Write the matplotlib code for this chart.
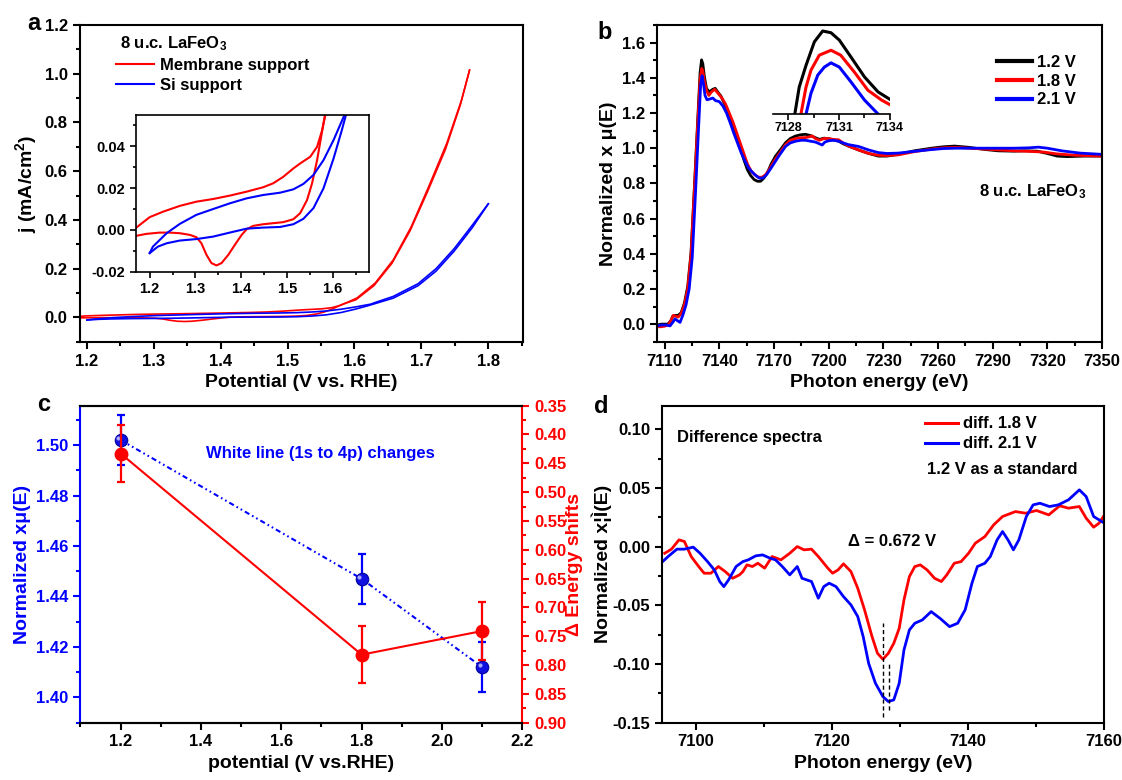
import matplotlib
matplotlib.use('Agg')
import matplotlib.pyplot as plt
from matplotlib.ticker import MultipleLocator, FormatStrFormatter
from matplotlib.lines import Line2D
from matplotlib.transforms import ScaledTranslation

plt.rcParams['font.family'] = ['Liberation Sans', 'DejaVu Sans']
plt.rcParams['font.weight'] = 'bold'
plt.rcParams['axes.labelweight'] = 'bold'
plt.rcParams['axes.unicode_minus'] = False
plt.rcParams['mathtext.fontset'] = 'custom'
plt.rcParams['mathtext.rm'] = 'Liberation Sans:bold'
plt.rcParams['mathtext.bf'] = 'Liberation Sans:bold'
plt.rcParams['mathtext.it'] = 'Liberation Sans:bold'
plt.rcParams['mathtext.default'] = 'bf'

## ---- panel a : CV curves (potential V vs RHE, j mA/cm2) ----
mem_fwd_v = [1.169, 1.2, 1.229, 1.266, 1.302, 1.339, 1.375, 1.412, 1.448, 1.47, 1.492, 1.514,
             1.529, 1.551, 1.566, 1.577, 1.584, 1.604, 1.631, 1.658, 1.685, 1.711, 1.738, 1.76, 1.772]
mem_fwd_j = [0.0008, 0.0061, 0.0087, 0.0115, 0.0135, 0.0148, 0.0164, 0.0183, 0.0204, 0.0223, 0.0254, 0.0294,
             0.0318, 0.035, 0.0398, 0.0477, 0.0549, 0.08, 0.141, 0.236, 0.373, 0.537, 0.715, 0.892, 1.015]
mem_rev_v = [1.772, 1.758, 1.736, 1.709, 1.683, 1.656, 1.629, 1.602, 1.583, 1.566, 1.555, 1.544, 1.529,
             1.514, 1.492, 1.47, 1.448, 1.426, 1.412, 1.401, 1.386, 1.372, 1.357, 1.346, 1.335, 1.324,
             1.313, 1.302, 1.288, 1.266, 1.244, 1.222, 1.193, 1.169]
mem_rev_j = [1.015, 0.87, 0.69, 0.515, 0.355, 0.222, 0.13, 0.072, 0.0549, 0.0334, 0.0223, 0.0143, 0.008,
             0.0051, 0.0037, 0.0032, 0.0027, 0.0019, 0.0003, -0.0024, -0.0072, -0.0119, -0.0159, -0.017, -0.0159, -0.0119,
             -0.0064, -0.0035, -0.0024, -0.0016, -0.0013, -0.0013, -0.0019, -0.0029]
si_fwd_v = [1.2, 1.207, 1.222, 1.237, 1.266, 1.302, 1.339, 1.375, 1.412, 1.448, 1.485, 1.514, 1.536,
            1.558, 1.58, 1.602, 1.624, 1.631, 1.658, 1.695, 1.722, 1.749, 1.776, 1.8]
si_fwd_j = [-0.0111, -0.008, -0.0048, -0.0016, 0.0029, 0.0072, 0.01, 0.0127, 0.0151, 0.0167, 0.0178, 0.0194, 0.022,
            0.0263, 0.0334, 0.043, 0.0541, 0.061, 0.086, 0.138, 0.2, 0.282, 0.378, 0.466]
si_rev_v = [1.8, 1.776, 1.749, 1.722, 1.695, 1.658, 1.629, 1.62, 1.602, 1.58, 1.558, 1.536, 1.514, 1.485,
            1.448, 1.412, 1.375, 1.339, 1.302, 1.266, 1.237, 1.218, 1.2]
si_rev_j = [0.466, 0.368, 0.272, 0.19, 0.13, 0.079, 0.055, 0.0477, 0.0342, 0.0199, 0.0104, 0.0053, 0.0027, 0.0014,
            0.0011, 0.0006, -0.0013, -0.0032, -0.0044, -0.0051, -0.0064, -0.008, -0.0111]

## ---- panel b : XANES spectra ----
e_k = [7106, 7108.2, 7111.8, 7113.5, 7114.5, 7116, 7117.5, 7119.1, 7120.9, 7122.7, 7124.5, 7126.4, 7128.2,
       7129.5, 7130.3, 7131.0, 7131.8, 7133, 7134.5, 7136.5, 7137.8, 7139.5, 7140.9, 7142.5, 7144.5, 7146.4,
       7148.2, 7150, 7151.8, 7153.5, 7155.4, 7157.2, 7159.1, 7161, 7162.7, 7164.5, 7166.4, 7168.5, 7170.9,
       7173.5, 7176.4, 7179, 7181.8, 7184.5, 7187.3, 7190, 7192.7, 7195, 7197.5, 7200, 7202.5, 7205.5, 7208,
       7210.9, 7216.4, 7222, 7227.3, 7232, 7238.2, 7247, 7256.4, 7263, 7269.1, 7277, 7285.5, 7293, 7301.8,
       7308, 7314.5, 7320, 7325.5, 7331, 7340, 7350]
mu_k = [-0.005, 0.0, 0.0, 0.02, 0.045, 0.05, 0.05, 0.065, 0.12, 0.214, 0.404, 0.784, 1.164,
        1.43, 1.502, 1.48, 1.41, 1.34, 1.32, 1.335, 1.34, 1.315, 1.297, 1.26, 1.221, 1.16,
        1.107, 1.05, 0.993, 0.935, 0.879, 0.845, 0.822, 0.812, 0.812, 0.83, 0.86, 0.91, 0.955,
        0.99, 1.031, 1.055, 1.069, 1.076, 1.079, 1.072, 1.06, 1.05, 1.057, 1.054, 1.048, 1.04, 1.025,
        1.012, 0.99, 0.97, 0.955, 0.955, 0.965, 0.985, 1.0, 1.008, 1.012, 1.005, 0.993, 0.985, 0.983,
        0.985, 0.983, 0.97, 0.955, 0.952, 0.955, 0.955]
e_r = [7106, 7108, 7110, 7112, 7113.5, 7114.8, 7116, 7117.5, 7119.1, 7120.9, 7122.7, 7124.5, 7126.4, 7128.2,
       7129.5, 7130.4, 7131.0, 7131.8, 7133, 7134.3, 7135.8, 7137.5, 7139.5, 7141.5, 7143.5, 7145.5, 7147.5,
       7149.5, 7151.5, 7153.5, 7155.5, 7157.5, 7159.5, 7161.5, 7163.5, 7165.5, 7167.5, 7170, 7173, 7176.4,
       7179, 7182, 7185, 7187.3, 7189.5, 7191, 7192.7, 7195, 7197.5, 7200, 7202.5, 7205.5, 7208, 7211,
       7216.4, 7222, 7227.3, 7232, 7238.2, 7247, 7256.4, 7263, 7270, 7277, 7285.5, 7293, 7301.8, 7310,
       7318, 7325, 7335, 7350]
mu_r = [-0.015, -0.015, -0.012, -0.005, 0.02, 0.05, 0.045, 0.04, 0.06, 0.11, 0.2, 0.39, 0.77, 1.14,
        1.39, 1.453, 1.44, 1.385, 1.33, 1.30, 1.32, 1.335, 1.31, 1.285, 1.25, 1.2, 1.15,
        1.09, 1.03, 0.97, 0.91, 0.87, 0.85, 0.835, 0.835, 0.85, 0.88, 0.925, 0.97, 1.02,
        1.045, 1.055, 1.06, 1.06, 1.065, 1.07, 1.055, 1.045, 1.055, 1.055, 1.05, 1.048, 1.03, 1.012,
        0.99, 0.97, 0.96, 0.958, 0.962, 0.98, 0.995, 1.002, 1.005, 1.0, 0.995, 0.99, 0.985, 0.982,
        0.978, 0.968, 0.96, 0.955]
e_b = [7106, 7108, 7111, 7113, 7114.5, 7115.8, 7117, 7118.5, 7120, 7121.8, 7123.5, 7125.2, 7127, 7128.6,
       7129.8, 7130.6, 7131.3, 7132.2, 7133.3, 7135, 7136.5, 7138, 7140, 7142, 7144, 7146, 7148, 7150,
       7152, 7154, 7156, 7158, 7160, 7162, 7164, 7166, 7168, 7170.5, 7173, 7176.4, 7179, 7182, 7185,
       7187.3, 7190, 7192.7, 7195, 7196.5, 7198, 7200, 7202.5, 7205.5, 7208, 7211, 7216.4, 7222, 7227.3,
       7232, 7238.2, 7247, 7256.4, 7263, 7270, 7277, 7285.5, 7293, 7301.8, 7310, 7315, 7320, 7328, 7338, 7350]
mu_b = [-0.01, -0.005, -0.005, -0.01, 0.01, 0.03, 0.02, 0.01, 0.05, 0.11, 0.2, 0.38, 0.75, 1.1,
        1.36, 1.412, 1.37, 1.3, 1.275, 1.28, 1.285, 1.27, 1.265, 1.24, 1.2, 1.145, 1.085, 1.03,
        0.975, 0.93, 0.89, 0.865, 0.845, 0.83, 0.83, 0.85, 0.88, 0.92, 0.96, 1.01, 1.03, 1.04, 1.045,
        1.045, 1.04, 1.035, 1.025, 1.018, 1.035, 1.042, 1.045, 1.04, 1.03, 1.02, 1.01, 0.99, 0.975,
        0.97, 0.972, 0.982, 0.992, 0.998, 1.0, 1.0, 1.0, 1.0, 1.0, 1.002, 1.006, 1.0, 0.985, 0.972, 0.965]

# white line zoom (inset of b)
zk_e = [7128.4, 7128.66, 7129.06, 7129.55, 7130.04, 7130.53, 7131.02, 7131.7, 7132.5, 7133.3, 7134.06]
zk_mu = [1.265, 1.342, 1.404, 1.471, 1.502, 1.497, 1.476, 1.428, 1.371, 1.328, 1.305]
zr_e = [7128.76, 7129.06, 7129.35, 7129.84, 7130.53, 7131.1, 7131.9, 7132.7, 7133.5, 7134.06]
zr_mu = [1.265, 1.342, 1.39, 1.433, 1.447, 1.433, 1.385, 1.333, 1.305, 1.29]
zb_e = [7129.06, 7129.35, 7129.75, 7130.14, 7130.53, 7131.02, 7131.7, 7132.5, 7133.3]
zb_mu = [1.265, 1.324, 1.376, 1.399, 1.411, 1.399, 1.357, 1.305, 1.265]

## ---- panel c ----
pot_c = [1.2, 1.8, 2.1]
white_line = [1.502, 1.447, 1.412]
white_err = [0.01, 0.01, 0.01]
e_shift = [0.433, 0.782, 0.741]
e_shift_err = [0.05, 0.05, 0.05]

## ---- panel d : difference spectra ----
d18_e = [7095.4, 7096.4, 7097.5, 7098.3, 7099.3, 7100.4, 7101.2, 7102.2, 7103.3, 7104.3, 7105.4, 7106.4,
         7106.9, 7107.5, 7108.3, 7109.1, 7110.1, 7111.2, 7112.5, 7113.8, 7114.9, 7115.9, 7117, 7118,
         7119.4, 7120.1, 7120.9, 7121.7, 7122.8, 7123.8, 7124.8, 7125.9, 7126.7, 7127.5, 7128.3, 7129.1,
         7129.9, 7130.6, 7131.4, 7132.2, 7133.0, 7134.0, 7135.1, 7136.1, 7136.9, 7138.0, 7139.0, 7140.1,
         7141.1, 7142.5, 7143.8, 7145.1, 7147.0, 7148.5, 7150.1, 7151.9, 7153.5, 7154.8, 7156.4, 7157.4,
         7158.5, 7159.3, 7160.1]
d18 = [-0.0057, -0.0022, 0.0057, 0.0043, -0.0085, -0.017, -0.0227, -0.0227, -0.017, -0.0213, -0.027, -0.0241,
       -0.0213, -0.0156, -0.017, -0.0142, -0.0184, -0.0085, -0.0113, -0.0057, 0.0, -0.0028, -0.0022, -0.0085,
       -0.0184, -0.0227, -0.0199, -0.0147, -0.0213, -0.0355, -0.0539, -0.0767, -0.0909, -0.096, -0.0909, -0.0824,
       -0.0696, -0.0454, -0.0255, -0.017, -0.0156, -0.0199, -0.027, -0.0298, -0.0241, -0.0142, -0.0128, -0.0057,
       0.0029, 0.0085, 0.0185, 0.0256, 0.0298, 0.0284, 0.0307, 0.027, 0.0347, 0.0327, 0.0341, 0.0242,
       0.0165, 0.0199, 0.027]
d21_e = [7095.1, 7095.9, 7097.2, 7098.3, 7099.6, 7100.6, 7101.7, 7102.7, 7103.5, 7104.1, 7104.8, 7105.9,
         7106.9, 7107.7, 7108.8, 7109.8, 7110.9, 7111.7, 7112.7, 7113.8, 7114.9, 7115.6, 7117.0, 7118.0,
         7118.8, 7119.6, 7120.6, 7121.7, 7122.8, 7123.8, 7124.6, 7125.4, 7126.4, 7127.5, 7128.3, 7129.1,
         7129.9, 7130.6, 7131.4, 7132.2, 7133.3, 7134.6, 7135.9, 7137.3, 7138.5, 7139.6, 7140.6, 7141.4,
         7142.5, 7143.3, 7144.3, 7145.1, 7145.9, 7146.7, 7147.5, 7148.6, 7149.6, 7150.6, 7152.0, 7153.3,
         7154.8, 7156.4, 7157.4, 7158.5, 7160.1]
d21 = [-0.0128, -0.0085, -0.0022, -0.0022, -0.0005, -0.0057, -0.0128, -0.0199, -0.0298, -0.0341, -0.0284, -0.017,
       -0.0128, -0.0113, -0.0079, -0.0071, -0.0099, -0.0113, -0.017, -0.0241, -0.017, -0.027, -0.0298, -0.044,
       -0.0341, -0.0312, -0.0341, -0.0426, -0.0497, -0.0596, -0.0767, -0.0994, -0.1164, -0.1278, -0.132, -0.1306,
       -0.1164, -0.088, -0.071, -0.0653, -0.0625, -0.0554, -0.0611, -0.0682, -0.0653, -0.0539, -0.0312, -0.017,
       -0.0142, -0.0085, 0.0057, 0.0128, 0.0057, -0.0028, 0.0057, 0.0256, 0.0355, 0.0369, 0.0341, 0.0355,
       0.0398, 0.0483, 0.0426, 0.0256, 0.0199]
peak_e = [7127.5, 7128.4]
peak_top = [-0.065, -0.099]
peak_bot = [-0.145, -0.139]


def style(ax, xmaj, xmin, ymaj, ymin, xfmt, yfmt, fs=12, lw=1.5):
    for s in ax.spines.values():
        s.set_linewidth(lw)
    ax.xaxis.set_major_locator(MultipleLocator(xmaj))
    ax.xaxis.set_minor_locator(MultipleLocator(xmin))
    ax.yaxis.set_major_locator(MultipleLocator(ymaj))
    ax.yaxis.set_minor_locator(MultipleLocator(ymin))
    ax.xaxis.set_major_formatter(FormatStrFormatter(xfmt))
    ax.yaxis.set_major_formatter(FormatStrFormatter(yfmt))
    ax.tick_params(which='both', direction='out', top=False, right=False, labelsize=fs, width=lw)
    ax.tick_params(which='major', length=5)
    ax.tick_params(which='minor', length=3)


fig = plt.figure(figsize=(11.22, 7.8), dpi=100)

#%% panel a
ax_a = fig.add_axes([0.0709, 0.5619, 0.3953, 0.4060])
ax_a.plot(mem_fwd_v, mem_fwd_j, color='red', lw=1.2)
ax_a.plot(mem_rev_v, mem_rev_j, color='red', lw=1.2)
ax_a.plot(si_fwd_v, si_fwd_j, color='blue', lw=1.2)
ax_a.plot(si_rev_v, si_rev_j, color='blue', lw=1.2)
ax_a.set_xlim(1.189, 1.852)
ax_a.set_ylim(-0.1, 1.2)
style(ax_a, 0.1, 0.05, 0.2, 0.1, '%.1f', '%.1f')
ax_a.set_xlabel('Potential (V vs. RHE)', fontsize=14)
ax_a.set_ylabel('j (mA/cm$^2$)', fontsize=14)
ax_a.text(0.091, 0.942, '8 u.c. LaFeO$_3$', transform=ax_a.transAxes, fontsize=12, va='center')
h_a = [Line2D([], [], color='red', lw=1.5), Line2D([], [], color='blue', lw=1.5)]
ax_a.legend(h_a, ['Membrane support', 'Si support'], loc='upper left', bbox_to_anchor=(0.083, 0.895),
            frameon=False, fontsize=12, handlelength=2.25, handletextpad=0.35, labelspacing=0.3,
            borderpad=0, borderaxespad=0)

ins_a = fig.add_axes([0.1212, 0.6517, 0.2079, 0.2009])
ins_a.plot(mem_fwd_v, mem_fwd_j, color='red', lw=1.5)
ins_a.plot(mem_rev_v, mem_rev_j, color='red', lw=1.5)
ins_a.plot(si_fwd_v, si_fwd_j, color='blue', lw=1.5)
ins_a.plot(si_rev_v, si_rev_j, color='blue', lw=1.5)
ins_a.set_xlim(1.17, 1.68)
ins_a.set_ylim(-0.02, 0.055)
style(ins_a, 0.1, 0.05, 0.02, 0.01, '%.1f', '%.2f', fs=10.5, lw=1.2)
ins_a.tick_params(which='major', length=4)
ins_a.tick_params(which='minor', length=2.5)

#%% panel b
ax_b = fig.add_axes([0.5858, 0.5619, 0.3963, 0.4060])
ax_b.plot(e_k, mu_k, color='black', lw=2)
ax_b.plot(e_r, mu_r, color='red', lw=2)
ax_b.plot(e_b, mu_b, color='blue', lw=2)
ax_b.set_xlim(7106, 7350)
ax_b.set_ylim(-0.1, 1.7)
style(ax_b, 30, 15, 0.2, 0.1, '%d', '%.1f')
ax_b.set_xlabel('Photon energy (eV)', fontsize=14)
ax_b.set_ylabel('Normalized x \u03bc(E)', fontsize=14)
ax_b.text(0.7225, 0.4736, '8 u.c. LaFeO$_3$', transform=ax_b.transAxes, fontsize=12, va='center')
h_b = [Line2D([], [], color=c, lw=3) for c in ['black', 'red', 'blue']]
ax_b.legend(h_b, ['1.2 V', '1.8 V', '2.1 V'], loc='upper left', bbox_to_anchor=(0.764, 0.905),
            frameon=False, fontsize=12, handlelength=2.1, handletextpad=0.3, labelspacing=0.22,
            borderpad=0, borderaxespad=0)

ins_b = fig.add_axes([0.6887, 0.8538, 0.1045, 0.1141])
ins_b.patch.set_alpha(0)
ins_b.plot(zk_e, zk_mu, color='black', lw=2.2)
ins_b.plot(zr_e, zr_mu, color='red', lw=2.2)
ins_b.plot(zb_e, zb_mu, color='blue', lw=2.2)
ins_b.set_xlim(7127.1, 7134.0)
ins_b.set_ylim(1.265, 1.519)
for s in ['top', 'left', 'right']:
    ins_b.spines[s].set_visible(False)
ins_b.spines['bottom'].set_linewidth(1.2)
ins_b.xaxis.set_major_locator(MultipleLocator(3))
ins_b.xaxis.set_minor_locator(MultipleLocator(1.5))
ins_b.xaxis.set_major_formatter(FormatStrFormatter('%d'))
ins_b.set_yticks([])
ins_b.tick_params(which='both', direction='out', labelsize=9, width=1.2)
ins_b.tick_params(which='major', length=4, pad=2)
ins_b.tick_params(which='minor', length=3)

#%% panel c
ax_c = fig.add_axes([0.0717, 0.0735, 0.3938, 0.4064])
ax_c2 = ax_c.twinx()
ax_c.plot(pot_c, white_line, color='blue', lw=1.5, ls=(0, (2.5, 1.5, 0.8, 1.5, 0.8, 1.5)))
ax_c.errorbar(pot_c, white_line, yerr=white_err, fmt='none', ecolor='blue', elinewidth=1.6,
              capsize=3, capthick=1.6)
ax_c.plot(pot_c, white_line, 'o', color='#1010e0', ms=9, mec='#0000a0', mew=0.8)
hl = ax_c.transData + ScaledTranslation(-1.6 / 72, 1.6 / 72, fig.dpi_scale_trans)
ax_c.plot(pot_c, white_line, 'o', color='#a8a8ff', ms=3, mew=0, transform=hl)
ax_c2.plot(pot_c, e_shift, color='red', lw=1.5)
ax_c2.errorbar(pot_c, e_shift, yerr=e_shift_err, fmt='none', ecolor='red', elinewidth=1.6,
               capsize=3, capthick=1.6)
ax_c2.plot(pot_c, e_shift, 'o', color='red', ms=9)
ax_c.set_xlim(1.1, 2.2)
ax_c.set_ylim(1.39, 1.5156)
ax_c2.set_ylim(0.90, 0.35)
style(ax_c, 0.2, 0.1, 0.02, 0.01, '%.1f', '%.2f')
ax_c2.yaxis.set_major_locator(MultipleLocator(0.05))
ax_c2.yaxis.set_minor_locator(MultipleLocator(0.025))
ax_c2.yaxis.set_major_formatter(FormatStrFormatter('%.2f'))
ax_c2.tick_params(which='both', direction='out', labelsize=12, width=1.5, colors='red')
ax_c2.tick_params(which='major', length=5)
ax_c2.tick_params(which='minor', length=3)
ax_c.tick_params(axis='y', which='both', colors='blue')
for s in ax_c2.spines.values():
    s.set_linewidth(1.5)
ax_c2.spines['left'].set_visible(False)
ax_c2.spines['right'].set_color('red')
ax_c.spines['left'].set_color('blue')
ax_c.spines['right'].set_visible(False)
ax_c.set_xlabel('potential (V vs.RHE)', fontsize=14)
ax_c.set_ylabel('Normalized x\u03bc(E)', fontsize=14, color='blue')
ax_c2.set_ylabel('\u0394 Energy shifts', fontsize=14, color='red', labelpad=0)
ax_c.text(0.2833, 0.8476, 'White line (1s to 4p) changes', transform=ax_c.transAxes,
          fontsize=12, color='blue', va='center')

#%% panel d
ax_d = fig.add_axes([0.590, 0.0735, 0.3938, 0.4064])
ax_d.plot(d18_e, d18, color='red', lw=2)
ax_d.plot(d21_e, d21, color='blue', lw=2)
ax_d.vlines(peak_e, peak_bot, peak_top, colors='black', linestyles=(0, (3, 2)), lw=1)
ax_d.set_xlim(7095, 7160)
ax_d.set_ylim(-0.15, 0.12)
style(ax_d, 20, 10, 0.05, 0.025, '%d', '%.2f')
ax_d.set_xlabel('Photon energy (eV)', fontsize=14)
ax_d.set_ylabel('Normalized x\u00a6\u00cc(E)', fontsize=14, labelpad=0)
ax_d.text(0.034, 0.899, 'Difference spectra', transform=ax_d.transAxes, fontsize=12, va='center')
ax_d.text(0.599, 0.80, '1.2 V as a standard', transform=ax_d.transAxes, fontsize=12, va='center')
ax_d.text(0.4217, 0.571, '\u0394 = 0.672 V', transform=ax_d.transAxes, fontsize=12, va='center')
h_d = [Line2D([], [], color='red', lw=2.2), Line2D([], [], color='blue', lw=2.2)]
ax_d.legend(h_d, ['diff. 1.8 V', 'diff. 2.1 V'], loc='upper left', bbox_to_anchor=(0.595, 0.966),
            frameon=False, fontsize=12, handlelength=2.0, handletextpad=0.3, labelspacing=0.3,
            borderpad=0, borderaxespad=0)

#%% panel letters
fig.text(0.024, 0.9705, 'a', fontsize=17, va='center')
fig.text(0.5326, 0.958, 'b', fontsize=17, va='center')
fig.text(0.0335, 0.4808, 'c', fontsize=17, va='center')
fig.text(0.529, 0.4786, 'd', fontsize=17, va='center')

fig.savefig('out.png', dpi=100)
